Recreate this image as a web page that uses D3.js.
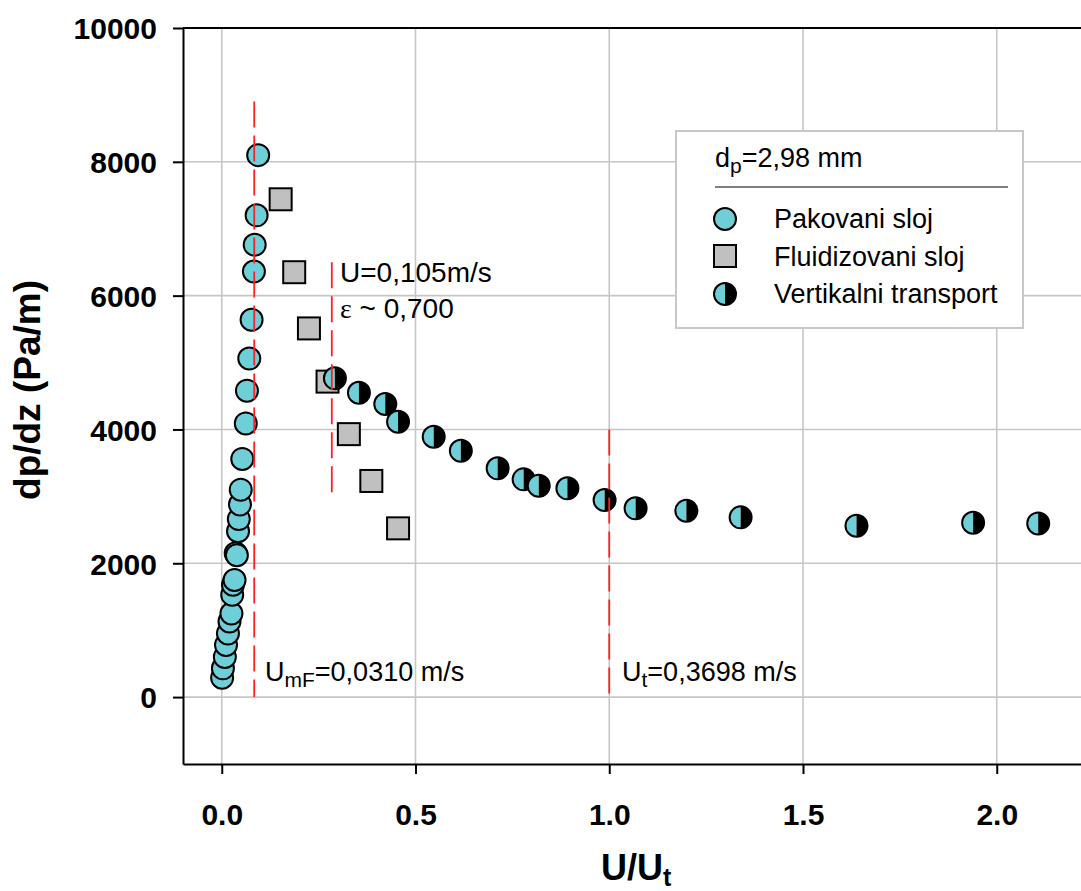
<!DOCTYPE html>
<html lang="sr">
  <head>
    <meta charset="utf-8">
    <title>dp/dz vs U/Ut</title>
    <script src="https://d3js.org/d3.v7.min.js"></script>
    <style>
      body { margin: 0; background: #fff; }
      svg { display: block; font-family: "Liberation Sans", Arial, sans-serif; }
      .axis text { font-family: "Liberation Sans", Arial, sans-serif; font-weight: bold; font-size: 30px; fill: #000; }
      .axis path, .axis line { stroke: #000; stroke-width: 2px; }
    </style>
  </head>
  <body>
    <script type="text/javascript">
    // Pakovani sloj (packed bed)
    var packedX = [0.001, 0.003, 0.008, 0.011, 0.016, 0.020, 0.025, 0.027, 0.029, 0.033,
                   0.036, 0.039, 0.042, 0.044, 0.047, 0.049, 0.053, 0.062, 0.065, 0.071,
                   0.077, 0.083, 0.085, 0.090, 0.094];
    var packedY = [290, 430, 600, 780, 950, 1130, 1250, 1530, 1680, 1750,
                   2150, 2120, 2480, 2660, 2880, 3100, 3560, 4090, 4580, 5060,
                   5640, 6360, 6760, 7200, 8100];

    // Fluidizovani sloj (fluidized bed)
    var fluidX = [0.152, 0.187, 0.225, 0.273, 0.328, 0.386, 0.455];
    var fluidY = [7440, 6350, 5510, 4715, 3930, 3230, 2522];

    // Vertikalni transport
    var transportX = [0.292, 0.354, 0.422, 0.455, 0.547, 0.617, 0.712, 0.779, 0.818, 0.892,
                      0.988, 1.068, 1.199, 1.339, 1.638, 1.939, 2.107];
    var transportY = [4764, 4549, 4380, 4115, 3891, 3682, 3419, 3254, 3159, 3120,
                      2945, 2821, 2785, 2686, 2561, 2606, 2596];

    // tick labels
    var xTicks = [0, 0.5, 1.0, 1.5, 2.0];
    var yTicks = [0, 2000, 4000, 6000, 8000, 10000];

    // dashed red marker lines: U/Ut position and dp/dz extent
    var markerX = [0.0838, 0.284, 1.0];
    var markerLow = [0, 3000, 0];
    var markerHigh = [8900, 6500, 4000];

    var w = 1081;
    var h = 891;
    var plotLeft = 183, plotTop = 28, plotBottom = 764;

    var cyan = "#6fcfd8";

    var svg = d3.select("body")
                .append("svg")
                .attr("width", w)
                .attr("height", h);

    var xScale = d3.scaleLinear()
                   .domain([-0.1, 2.22])
                   .range([plotLeft, 1082]);

    var yScale = d3.scaleLinear()
                   .domain([-1000, 10000])
                   .range([plotBottom, plotTop]);

    // grid lines
    svg.append("g")
       .selectAll("line")
       .data(xTicks)
       .enter()
       .append("line")
       .attr("x1", function(d) { return xScale(d); })
       .attr("x2", function(d) { return xScale(d); })
       .attr("y1", plotTop)
       .attr("y2", plotBottom)
       .attr("stroke", "#c6c6c6")
       .attr("stroke-width", 1.6);

    svg.append("g")
       .selectAll("line")
       .data(yTicks.slice(0, -1))
       .enter()
       .append("line")
       .attr("x1", plotLeft)
       .attr("x2", w)
       .attr("y1", function(d) { return yScale(d); })
       .attr("y2", function(d) { return yScale(d); })
       .attr("stroke", "#c6c6c6")
       .attr("stroke-width", 1.6);

    // top frame
    svg.append("line")
       .attr("x1", plotLeft).attr("x2", w)
       .attr("y1", yScale(10000)).attr("y2", yScale(10000))
       .attr("stroke", "#000")
       .attr("stroke-width", 2);

    // axes
    var xAxis = d3.axisBottom(xScale)
                  .tickValues(xTicks)
                  .tickFormat(d3.format(".1f"))
                  .tickSize(10)
                  .tickSizeOuter(0);

    var yAxis = d3.axisLeft(yScale)
                  .tickValues(yTicks)
                  .tickFormat(d3.format("d"))
                  .tickSize(10)
                  .tickPadding(16)
                  .tickSizeOuter(0);

    svg.append("g")
       .attr("class", "axis")
       .attr("transform", "translate(0," + plotBottom + ")")
       .call(xAxis)
       .selectAll("text")
       .attr("y", 61)
       .attr("dy", null);

    svg.append("g")
       .attr("class", "axis")
       .attr("transform", "translate(" + plotLeft + ",0)")
       .call(yAxis)
       .selectAll("text")
       .attr("dy", "0.36em");

    // axis titles
    svg.append("text")
       .attr("transform", "translate(40,390) rotate(-90)")
       .attr("text-anchor", "middle")
       .style("font-weight", "bold")
       .style("font-size", "37px")
       .text("dp/dz (Pa/m)");

    var xt = svg.append("text")
                .attr("x", 601)
                .attr("y", 880)
                .style("font-weight", "bold")
                .style("font-size", "36px");
    xt.append("tspan").text("U/U");
    xt.append("tspan").attr("dy", 6).style("font-size", "25px").text("t");

    // fluidized bed squares
    var sq = 22;
    svg.append("g")
       .selectAll("rect")
       .data(fluidX)
       .enter()
       .append("rect")
       .attr("x", function(d) { return xScale(d) - sq / 2; })
       .attr("y", function(d, i) { return yScale(fluidY[i]) - sq / 2; })
       .attr("width", sq)
       .attr("height", sq)
       .attr("fill", "#c0c0c0")
       .attr("stroke", "#000")
       .attr("stroke-width", 2);

    // packed bed circles
    var r = 12;
    svg.append("g")
       .selectAll("circle")
       .data(packedX)
       .enter()
       .append("circle")
       .attr("cx", function(d) { return xScale(d); })
       .attr("cy", function(d, i) { return yScale(packedY[i]); })
       .attr("r", r - 1)
       .attr("fill", cyan)
       .attr("stroke", "#000")
       .attr("stroke-width", 2);

    // half cyan / half black symbol
    var leftHalf = d3.arc().innerRadius(0).outerRadius(r - 1).startAngle(Math.PI).endAngle(2 * Math.PI);
    var rightHalf = d3.arc().innerRadius(0).outerRadius(r - 1).startAngle(0).endAngle(Math.PI);

    var halfSymbol = function(sel) {
      sel.append("path").attr("d", leftHalf()).attr("fill", cyan);
      sel.append("path").attr("d", rightHalf()).attr("fill", "#000");
      sel.append("circle").attr("r", r - 1).attr("fill", "none")
         .attr("stroke", "#000").attr("stroke-width", 2);
    };

    svg.append("g")
       .selectAll("g")
       .data(transportX)
       .enter()
       .append("g")
       .attr("transform", function(d, i) {
         return "translate(" + xScale(d) + "," + yScale(transportY[i]) + ")";
       })
       .call(halfSymbol);

    // dashed marker lines
    svg.append("g")
       .selectAll("line")
       .data(markerX)
       .enter()
       .append("line")
       .attr("x1", function(d) { return xScale(d); })
       .attr("x2", function(d) { return xScale(d); })
       .attr("y1", function(d, i) { return yScale(markerHigh[i]); })
       .attr("y2", function(d, i) { return yScale(markerLow[i]); })
       .attr("stroke", "#ff2020")
       .attr("stroke-width", 1.8)
       .attr("stroke-dasharray", "26,8");

    // annotations
    var ann = 27;
    var sub = 21;
    var t1 = svg.append("text").attr("x", 265).attr("y", 681).style("font-size", ann + "px");
    t1.append("tspan").text("U");
    t1.append("tspan").attr("dy", 6).style("font-size", sub + "px").text("mF");
    t1.append("tspan").attr("dy", -6).text("=0,0310 m/s");

    var t2 = svg.append("text").attr("x", 622).attr("y", 681).style("font-size", ann + "px");
    t2.append("tspan").text("U");
    t2.append("tspan").attr("dy", 6).style("font-size", sub + "px").text("t");
    t2.append("tspan").attr("dy", -6).text("=0,3698 m/s");

    svg.append("text").attr("x", 340).attr("y", 282)
       .style("font-size", "28px")
       .text("U=0,105m/s");

    var t3 = svg.append("text").attr("x", 340).attr("y", 318).style("font-size", "28px");
    t3.append("tspan").style("font-family", "'Liberation Serif', serif").text("ε");
    t3.append("tspan").text(" ~ 0,700");

    // legend
    var legend = svg.append("g");
    legend.append("rect")
          .attr("x", 676).attr("y", 131)
          .attr("width", 347).attr("height", 197)
          .attr("fill", "#fff")
          .attr("stroke", "#c8c8c8")
          .attr("stroke-width", 2);

    var lt = legend.append("text").attr("x", 715).attr("y", 167).style("font-size", ann + "px");
    lt.append("tspan").text("d");
    lt.append("tspan").attr("dy", 6).style("font-size", sub + "px").text("p");
    lt.append("tspan").attr("dy", -6).text("=2,98 mm");

    legend.append("line")
          .attr("x1", 715).attr("x2", 1008)
          .attr("y1", 187).attr("y2", 187)
          .attr("stroke", "#000")
          .attr("stroke-width", 1.2);

    legend.append("circle")
          .attr("cx", 725).attr("cy", 219).attr("r", r - 1)
          .attr("fill", cyan).attr("stroke", "#000").attr("stroke-width", 2);
    legend.append("rect")
          .attr("x", 725 - 11).attr("y", 256 - 11).attr("width", 22).attr("height", 22)
          .attr("fill", "#c0c0c0").attr("stroke", "#000").attr("stroke-width", 2);
    legend.append("g")
          .attr("transform", "translate(725,294)")
          .call(halfSymbol);

    var legendNames = ["Pakovani sloj", "Fluidizovani sloj", "Vertikalni transport"];
    legend.selectAll("text.item")
          .data(legendNames)
          .enter()
          .append("text")
          .attr("class", "item")
          .attr("x", 774)
          .attr("y", function(d, i) { return 228 + i * 37.5; })
          .style("font-size", ann + "px")
          .text(function(d) { return d; });
    </script>
  </body>
</html>
